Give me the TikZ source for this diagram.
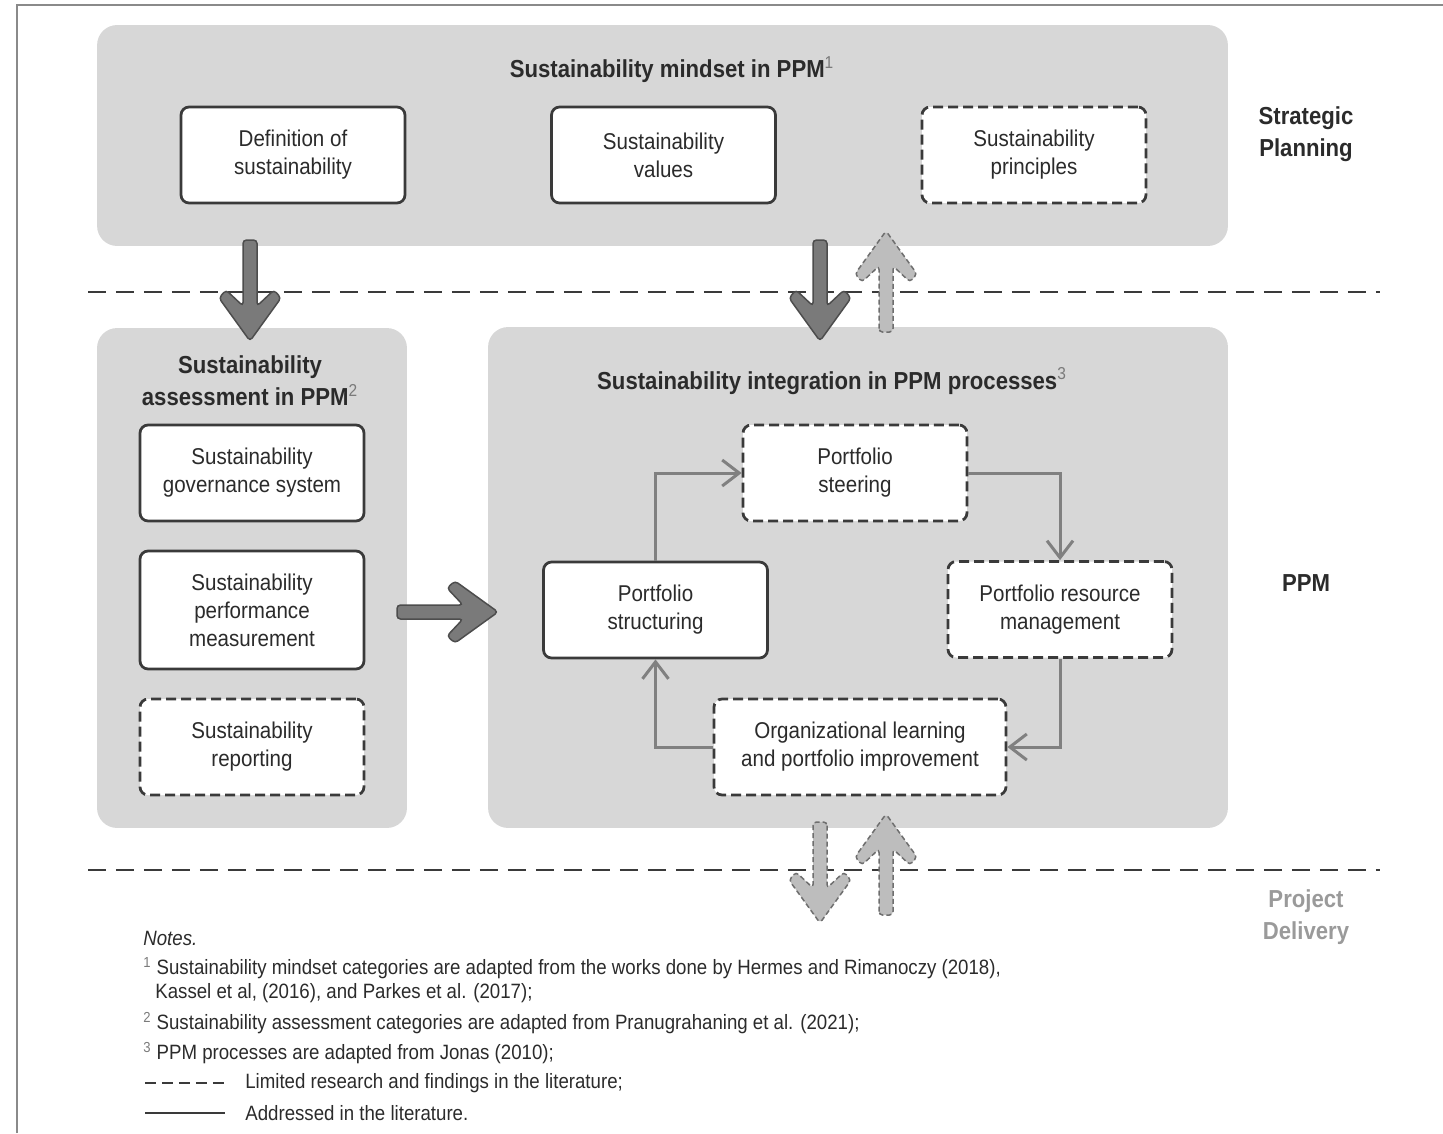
\documentclass[tikz,border=0pt]{standalone}
\usepackage{fontspec}
\setmainfont{Liberation Sans}[FakeStretch=0.9]
\usetikzlibrary{arrows.meta}
\definecolor{panelgray}{HTML}{D7D7D7}
\definecolor{boxline}{HTML}{3A3A3A}
\definecolor{loopgray}{HTML}{808080}
\definecolor{darkfill}{HTML}{7A7A7A}
\definecolor{darkedge}{HTML}{4D4D4D}
\definecolor{lightfill}{HTML}{BDBDBD}
\definecolor{lightedge}{HTML}{6E6E6E}
\definecolor{textgray}{HTML}{2B2B2B}
\definecolor{layergray}{HTML}{9A9A9A}
\definecolor{framegray}{HTML}{8A8A8A}
\newcommand{\fnmark}[1]{\textsuperscript{\mdseries\color{darkfill}#1}}

% block arrow, drawn along +x, 101 units long
\tikzset{
  pics/bigarrow/.style={code={
    \path[pic actions] (0,-7) -- (66,-7) -- (50,-24) -- (58,-31) -- (101,0) -- (58,31) -- (50,24) -- (66,7) -- (0,7) -- cycle;
  }}
}

\begin{document}
\begin{tikzpicture}[x=0.02cm, y=-0.02cm,
  panel/.style={fill=panelgray, rounded corners=4mm, inner sep=0pt},
  item/.style={draw=boxline, fill=white, line width=0.55mm, rounded corners=1.6mm, minimum width=44.8mm, minimum height=19.2mm, align=center, text=textgray, font=\fontsize{13}{16}\selectfont, inner sep=0pt},
  gap/.style={item, dash pattern=on 2mm off 1mm},
  paneltitle/.style={align=center, text=textgray, font=\bfseries\fontsize{14}{18.2}\selectfont},
  loopline/.style={draw=loopgray, line width=0.6mm, -{Straight Barb[length=3.4mm, width=5.2mm]}},
  darkarrow/.style={fill=darkfill, draw=darkedge, line width=0.3mm, rounded corners=0.7mm},
  lightarrow/.style={fill=lightfill, draw=lightedge, line width=0.3mm, dash pattern=on 1mm off 0.6mm, rounded corners=0.7mm},
  layerline/.style={draw=boxline, line width=0.4mm, dash pattern=on 3.6mm off 2mm},
  note/.style={anchor=west, inner sep=0pt, text=textgray, font=\fontsize{11.8}{13}\selectfont}
]
\useasboundingbox (0,0) rectangle (1443,1133);
\draw[framegray, line width=0.4mm] (17,1133) -- (17,5) -- (1443,5);

% panels
\node[panel, minimum width=226.2mm, minimum height=44.2mm] (mindset) at (662.5,135.5) {};
\node[panel, minimum width=62mm, minimum height=100mm] (assess) at (252,578) {};
\node[panel, minimum width=148mm, minimum height=100.2mm] (integr) at (858,577.5) {};

\node[paneltitle] (mindsettitle) at (672,70) {Sustainability mindset in PPM\fnmark{1}};
\node[paneltitle] (assesstitle) at (250,381) {Sustainability\\assessment in PPM\fnmark{2}};
\node[paneltitle] (integrtitle) at (832,381) {Sustainability integration in PPM processes\fnmark{3}};

% layers
\draw[layerline] (88,292) -- (1380,292);
\draw[layerline] (88,870) -- (1380,870);
\node[paneltitle] (strategic) at (1306,134) {Strategic\\Planning};
\node[paneltitle] (ppm) at (1306,583) {PPM};
\node[paneltitle, text=layergray] (delivery) at (1306,917) {Project\\Delivery};

% mindset
\node[item] (def) at (293,155) {Definition of\\sustainability};
\node[item] (val) at (663.5,155) {Sustainability\\values};
\node[gap] (prin) at (1034,155) {Sustainability\\principles};

% assessment
\node[item] (gov) at (252,473) {Sustainability\\governance system};
\node[item, minimum height=23.6mm] (perf) at (252,610) {Sustainability\\performance\\measurement};
\node[gap] (rep) at (252,747) {Sustainability\\reporting};

% processes
\node[gap] (steer) at (855,473) {Portfolio\\steering};
\node[item] (struct) at (655.5,610) {Portfolio\\structuring};
\node[gap] (res) at (1060,609.5) {Portfolio resource\\management};
\node[gap, minimum width=58.4mm] (learn) at (860,747) {Organizational learning\\and portfolio improvement};

\draw[loopline] (struct.north) |- (steer.west);
\draw[loopline] (steer.east) -| (res.north);
\draw[loopline] (res.south) |- (learn.east);
\draw[loopline] (learn.west) -| (struct.south);

% block arrows
\pic[darkarrow, rotate=-90] at (250,240) {bigarrow};
\pic[darkarrow, rotate=-90] at (820,240) {bigarrow};
\pic[lightarrow, rotate=90] at (886,332) {bigarrow};
\pic[darkarrow] at (397,612) {bigarrow};
\pic[lightarrow, rotate=-90] at (820,822) {bigarrow};
\pic[lightarrow, rotate=90] at (886,915) {bigarrow};

% notes
\node[note, font=\itshape\fontsize{11.8}{13}\selectfont] (note0) at (143,938) {Notes.};
\node[note] (note1) at (143,968) {\fnmark{1} Sustainability mindset categories are adapted from the works done by Hermes and Rimanoczy (2018),};
\node[note] (note1b) at (155,993) {Kassel et al, (2016), and Parkes et al. (2017);};
\node[note] (note2) at (143,1023) {\fnmark{2} Sustainability assessment categories are adapted from Pranugrahaning et al. (2021);};
\node[note] (note3) at (143,1053) {\fnmark{3} PPM processes are adapted from Jonas (2010);};
\draw[boxline, line width=0.5mm, dash pattern=on 2.3mm off 1.1mm] (145,1083) -- (225,1083);
\node[note] (legend1) at (245,1083) {Limited research and findings in the literature;};
\draw[boxline, line width=0.5mm] (145,1113) -- (225,1113);
\node[note] (legend2) at (245,1113) {Addressed in the literature.};
\end{tikzpicture}
\end{document}
